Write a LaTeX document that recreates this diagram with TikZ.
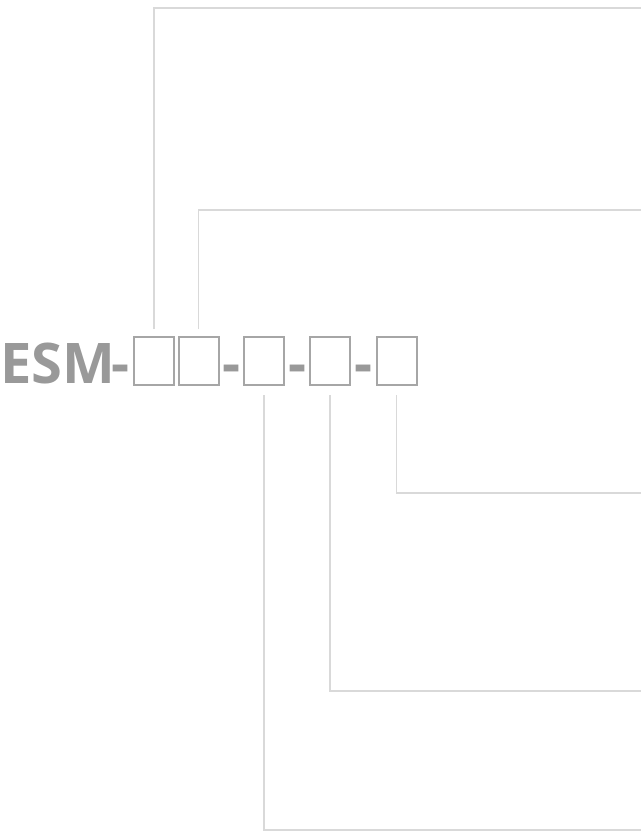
\documentclass[tikz,border=0pt]{standalone}
\usepackage{fontspec}
\setsansfont{Open Sans}
\usepackage{xcolor}
\definecolor{codegray}{HTML}{999999}
\definecolor{boxgray}{HTML}{A6A6A6}
\definecolor{leadgray}{HTML}{D9D9D9}
\usetikzlibrary{calc}

\begin{document}
\begin{tikzpicture}[x=1pt,y=-1pt,
  digit/.style={draw=boxgray,line width=2pt,minimum width=40pt,minimum height=48pt,inner sep=0pt},
  hyph/.style={font=\sffamily\bfseries\fontsize{56}{56}\selectfont,text=codegray,inner sep=0pt},
  lead/.style={draw=leadgray,line width=1.5pt}]
\useasboundingbox (0,0) rectangle (641,834);
% code: ESM-[][]-[]-[]-[]
\node[hyph,anchor=base west] (esm) at (0,383) {ESM};
\foreach \n/\x in {1/154,2/198.5,3/264,4/330,5/396.5}{
  \node[digit] (b\n) at (\x,361) {};
}
\foreach \n/\x in {1/121,2/231.5,3/297.5,4/363.5}{
  \node[hyph,anchor=base] (h\n) at (\x,383) {-};
}
% leader ends at the right edge
\coordinate (e1) at (641,8);
\coordinate (e2) at (641,210);
\coordinate (e5) at (641,493);
\coordinate (e4) at (641,691);
\coordinate (e3) at (641,830);
% leaders up
\draw[lead] ($(b1.north)+(0,-7)$) |- (e1);
\draw[lead] ($(b2.north)+(0,-7)$) |- (e2);
% leaders down
\draw[lead] ($(b5.south)+(0,9)$) |- (e5);
\draw[lead] ($(b4.south)+(0,9)$) |- (e4);
\draw[lead] ($(b3.south)+(0,9)$) |- (e3);
\end{tikzpicture}
\end{document}
